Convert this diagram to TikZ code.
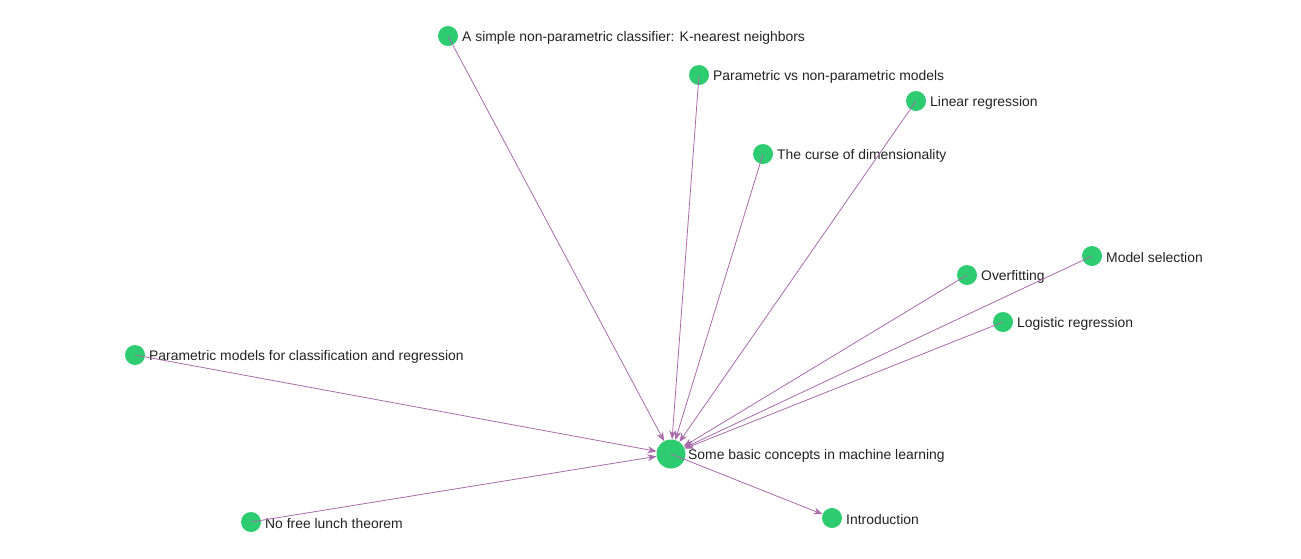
\documentclass[tikz,border=0pt]{standalone}
\usepackage{fontspec}
\setmainfont{Liberation Sans}
\usetikzlibrary{arrows.meta}
\definecolor{nodegreen}{RGB}{46,204,113}
\definecolor{edgepurple}{RGB}{168,108,170}
\definecolor{txt}{RGB}{34,34,34}
\begin{document}
\begin{tikzpicture}[x=1pt,y=-1pt,
  topic/.style={circle,fill=nodegreen,draw=none,minimum size=20pt,inner sep=0pt},
  hubnode/.style={circle,fill=nodegreen,draw=none,minimum size=29pt,inner sep=0pt},
  lbl/.style={anchor=west,inner sep=0pt,text=txt,font=\fontsize{13.9}{16}\selectfont,yshift=-1.5pt},
  link/.style={draw=edgepurple,line width=0.8pt,-{Stealth[length=9pt,width=7pt]}}]
\useasboundingbox (0,0) rectangle (1301,558);
\node[hubnode] (hub) at (671,454) {};
\node[topic] (intro) at (832,518) {};
\node[topic] (knn) at (448,36) {};
\node[topic] (pvn) at (699,75) {};
\node[topic] (lin) at (916,101) {};
\node[topic] (curse) at (763,154) {};
\node[topic] (msel) at (1092,256) {};
\node[topic] (over) at (967,275) {};
\node[topic] (logr) at (1003,322) {};
\node[topic] (pmod) at (135,355) {};
\node[topic] (nfl) at (251,522) {};
\node[lbl] (hubL) at (688,454) {Some basic concepts in machine learning};
\node[lbl] (introL) at (846,518) {Introduction};
\node[lbl] (knnL) at (462,36) {A simple non-parametric classifier: K-nearest neighbors};
\node[lbl] (pvnL) at (713,75) {Parametric vs non-parametric models};
\node[lbl] (linL) at (930,101) {Linear regression};
\node[lbl] (curseL) at (777,154) {The curse of dimensionality};
\node[lbl] (mselL) at (1106,256) {Model selection};
\node[lbl] (overL) at (981,275) {Overfitting};
\node[lbl] (logrL) at (1017,322) {Logistic regression};
\node[lbl] (pmodL) at (149,355) {Parametric models for classification and regression};
\node[lbl] (nflL) at (265,522) {No free lunch theorem};
\foreach \s in {knn,pvn,lin,curse,msel,over,logr,pmod,nfl}
  \draw[link] (\s.center) -- (hub);
\draw[link] (hub.center) -- (intro);
\end{tikzpicture}
\end{document}
